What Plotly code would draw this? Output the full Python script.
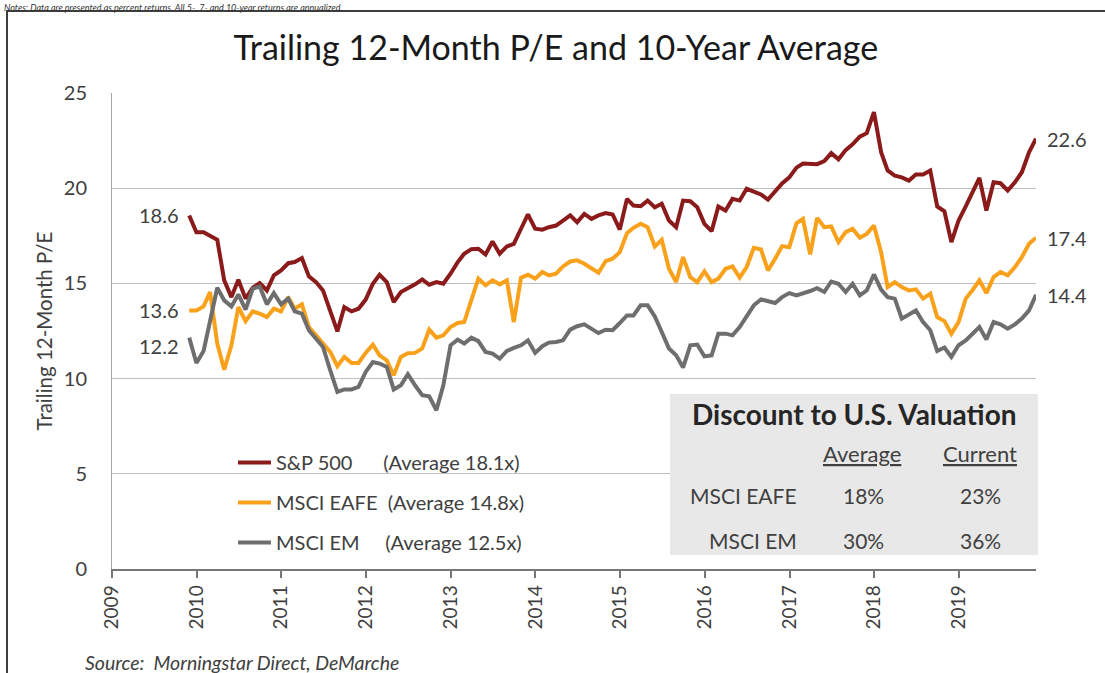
import plotly.graph_objects as go
import pandas as pd

# ---------------- data ----------------
dates = pd.date_range("2009-11-30", periods=121, freq="ME")

sp500 = [18.57, 17.69, 17.69, 17.50, 17.29, 15.16, 14.28, 15.19, 14.20, 14.77,
         15.02, 14.63, 15.42, 15.68, 16.06, 16.12, 16.33, 15.37, 15.07, 14.63,
         13.58, 12.48, 13.76, 13.53, 13.67, 14.15, 14.98, 15.45, 15.07, 14.02,
         14.55, 14.72, 14.95, 15.21, 14.93, 15.07, 14.98, 15.51, 16.12, 16.56,
         16.80, 16.82, 16.52, 17.20, 16.56, 16.94, 17.08, 17.87, 18.62, 17.87,
         17.82, 17.95, 18.04, 18.30, 18.57, 18.21, 18.65, 18.39, 18.57, 18.69,
         18.62, 17.83, 19.44, 19.09, 19.05, 19.35, 19.00, 19.18, 18.30, 17.95,
         19.35, 19.32, 19.00, 18.13, 17.74, 19.04, 18.83, 19.44, 19.35, 19.97,
         19.80, 19.67, 19.40, 19.82, 20.25, 20.57, 21.08, 21.30, 21.26, 21.26,
         21.42, 21.84, 21.52, 22.00, 22.30, 22.71, 22.89, 24.00, 21.89, 20.93,
         20.66, 20.57, 20.40, 20.72, 20.72, 20.93, 19.04, 18.79, 17.17, 18.30,
         19.04, 19.70, 20.54, 18.83, 20.31, 20.26, 19.88, 20.31, 20.84, 21.89,
         22.60]

eafe = [13.58, 13.58, 13.79, 14.55, 11.84, 10.47, 11.75, 13.76, 13.02, 13.53,
        13.41, 13.23, 13.67, 13.53, 14.28, 13.67, 13.90, 12.71, 12.27, 11.84,
        11.40, 10.65, 11.14, 10.82, 10.82, 11.35, 11.79, 11.22, 10.96, 10.17,
        11.14, 11.33, 11.35, 11.58, 12.57, 12.15, 12.27, 12.71, 12.92, 12.97,
        14.05, 15.25, 14.90, 15.16, 14.95, 15.16, 12.97, 15.30, 15.45, 15.25,
        15.60, 15.42, 15.51, 15.89, 16.15, 16.21, 16.03, 15.82, 15.56, 16.17,
        16.30, 16.64, 17.64, 17.92, 18.13, 17.95, 16.94, 17.29, 15.77, 15.07,
        16.38, 15.33, 15.07, 15.63, 15.07, 15.25, 15.77, 15.89, 15.30, 15.86,
        16.87, 16.78, 15.68, 16.30, 16.96, 16.90, 18.16, 18.39, 16.52, 18.44,
        17.95, 17.99, 17.17, 17.69, 17.87, 17.40, 17.60, 18.04, 16.64, 14.81,
        15.07, 14.81, 14.63, 14.69, 14.20, 14.46, 13.23, 13.02, 12.36, 12.97,
        14.20, 14.63, 15.16, 14.49, 15.33, 15.60, 15.42, 15.86, 16.38, 17.08,
        17.40]

em = [12.15, 10.82, 11.45, 13.06, 14.77, 14.11, 13.79, 14.42, 13.62, 14.72,
      14.84, 13.90, 14.49, 13.90, 14.20, 13.53, 13.41, 12.54, 12.05, 11.66,
      10.44, 9.30, 9.43, 9.43, 9.56, 10.35, 10.87, 10.79, 10.61, 9.43,
      9.65, 10.23, 9.65, 9.13, 9.07, 8.34, 9.65, 11.75, 12.05, 11.84,
      12.15, 11.97, 11.40, 11.31, 11.05, 11.45, 11.61, 11.75, 12.01, 11.35,
      11.70, 11.89, 11.92, 12.01, 12.57, 12.75, 12.85, 12.62, 12.39, 12.57,
      12.54, 12.92, 13.32, 13.32, 13.85, 13.85, 13.27, 12.45, 11.58, 11.22,
      10.58, 11.75, 11.79, 11.17, 11.22, 12.36, 12.36, 12.27, 12.71, 13.27,
      13.85, 14.16, 14.06, 13.97, 14.28, 14.49, 14.37, 14.46, 14.60, 14.75,
      14.55, 15.10, 14.98, 14.55, 14.98, 14.37, 14.63, 15.47, 14.67, 14.28,
      14.20, 13.15, 13.36, 13.58, 12.97, 12.54, 11.45, 11.63, 11.14, 11.75,
      12.01, 12.33, 12.71, 12.05, 12.97, 12.85, 12.62, 12.85, 13.15, 13.58,
      14.40]

series_names = ["S&P 500", "MSCI EAFE", "MSCI EM"]
averages = ["18.1x", "14.8x", "12.5x"]
name_pad = [6, 2, 5]

table_title = "Discount to U.S. Valuation"
table_cols = ["Average", "Current"]
table_rows = ["MSCI EAFE", "MSCI EM"]
avg_discount = ["18%", "30%"]
cur_discount = ["23%", "36%"]

# ---------------- style ----------------
W, H = 1105, 673
ML, MR, MT, MB = 112, 69, 93, 104
PW, PH = W - ML - MR, H - MT - MB
FONT = "Lato, 'Open Sans', sans-serif"
TXT = "#404040"
colors = ["#8B1A1A", "#F9A11B", "#6E6E6E"]


def px(xp):
    return (xp - ML) / PW


def py(yp):
    return (H - MB - yp) / PH


fig = go.Figure()
all_series = [sp500, eafe, em]
for name, vals, col, avg, pad in zip(series_names, all_series, colors, averages, name_pad):
    fig.add_trace(go.Scatter(
        x=dates, y=vals, mode="lines",
        name=name + "\u00a0" * pad + "(Average " + avg + ")",
        legendgroup=name,
        line=dict(color=col, width=4),
        hoverinfo="skip",
    ))

annotations = []
# end-point value labels
label_yshift_start = [0, 0, -8]
for vals, ys in zip(all_series, label_yshift_start):
    annotations.append(dict(x=dates[0], y=vals[0], xref="x", yref="y",
                            text=f"{vals[0]:.1f}", showarrow=False,
                            xanchor="right", yanchor="middle", xshift=-8, yshift=ys,
                            font=dict(size=20, color=TXT, family=FONT)))
    annotations.append(dict(x=dates[-1], y=vals[-1], xref="x", yref="y",
                            text=f"{vals[-1]:.1f}", showarrow=False,
                            xanchor="left", yanchor="middle", xshift=9,
                            font=dict(size=20, color=TXT, family=FONT)))

# table
annotations.append(dict(x=px(854), y=py(414), xref="paper", yref="paper",
                        text="<b>" + table_title + "</b>", showarrow=False,
                        xanchor="center", yanchor="middle",
                        font=dict(size=28, color="#262626", family=FONT)))
for cx, col in zip([862, 980], table_cols):
    annotations.append(dict(x=px(cx), y=py(453), xref="paper", yref="paper",
                            text="<u>" + col + "</u>", showarrow=False,
                            xanchor="center", yanchor="middle",
                            font=dict(size=22, color=TXT, family=FONT)))
for ry, rname, a, c in zip([495, 540], table_rows, avg_discount, cur_discount):
    annotations.append(dict(x=px(799), y=py(ry), xref="paper", yref="paper",
                            text=rname, showarrow=False, xanchor="right", yanchor="middle",
                            font=dict(size=21, color=TXT, family=FONT)))
    annotations.append(dict(x=px(863), y=py(ry), xref="paper", yref="paper",
                            text=a, showarrow=False, xanchor="center", yanchor="middle",
                            font=dict(size=21, color=TXT, family=FONT)))
    annotations.append(dict(x=px(980), y=py(ry), xref="paper", yref="paper",
                            text=c, showarrow=False, xanchor="center", yanchor="middle",
                            font=dict(size=21, color=TXT, family=FONT)))

# source and note
annotations.append(dict(x=px(83), y=py(662), xref="paper", yref="paper",
                        text="<i>Source:  Morningstar Direct, DeMarche</i>", showarrow=False,
                        xanchor="left", yanchor="middle",
                        font=dict(size=19.5, color=TXT, family=FONT)))
annotations.append(dict(x=px(2), y=py(0), xref="paper", yref="paper",
                        text="<i>Notes: Data are presented as percent returns. All 5-, 7- and 10-year returns are annualized.</i>",
                        showarrow=False, xanchor="left", yanchor="top",
                        font=dict(size=9, color="#333333", family=FONT)))

shapes = [
    dict(type="rect", xref="paper", yref="paper",
         x0=px(670), x1=px(1038), y0=py(555), y1=py(394),
         fillcolor="#E8E8E8", line=dict(width=0), layer="above"),
    dict(type="rect", xref="paper", yref="paper",
         x0=px(7), x1=px(1112), y0=py(680), y1=py(11),
         fillcolor="rgba(0,0,0,0)", line=dict(color="#3F3F3F", width=2), layer="above"),
]

fig.update_layout(
    width=W, height=H,
    margin=dict(l=ML, r=MR, t=MT, b=MB, autoexpand=False),
    paper_bgcolor="white", plot_bgcolor="white",
    font=dict(family=FONT, color=TXT),
    title=dict(text="Trailing 12-Month P/E and 10-Year Average",
               x=0.503, xref="container", xanchor="center",
               y=1 - 48 / H, yref="container", yanchor="middle",
               font=dict(size=34, color="#1a1a1a", family=FONT)),
    showlegend=True,
    legend=dict(x=px(233), y=py(443), xanchor="left", yanchor="top",
                bgcolor="rgba(0,0,0,0)", traceorder="grouped",
                tracegroupgap=11, font=dict(size=20, color=TXT, family=FONT),
                itemwidth=33),
    annotations=annotations,
    shapes=shapes,
)

fig.update_xaxes(
    type="date", range=[pd.Timestamp("2009-01-01"), dates[-1]],
    dtick="M12", tick0="2009-01-01", tickformat="%Y", tickangle=-90,
    showgrid=False, showline=True, linecolor="#767676", linewidth=1.5,
    ticks="outside", ticklen=7, tickwidth=1.5, tickcolor="#767676",
    tickfont=dict(size=19, color=TXT, family=FONT), zeroline=False,
    automargin=False,
)
fig.update_yaxes(
    range=[0, 25], dtick=5, tick0=0,
    showgrid=True, gridcolor="#BFBFBF", gridwidth=1,
    showline=True, linecolor="#A6A6A6", linewidth=1,
    ticks="", zeroline=False, ticklabelstandoff=20,
    tickfont=dict(size=20, color=TXT, family=FONT),
    title=dict(text="Trailing 12-Month P/E", standoff=5,
               font=dict(size=20.5, color=TXT, family=FONT)),
    automargin=False,
)

fig.write_html("out.html", config={"displayModeBar": False},
               post_script="document.body.style.margin='0px';")
